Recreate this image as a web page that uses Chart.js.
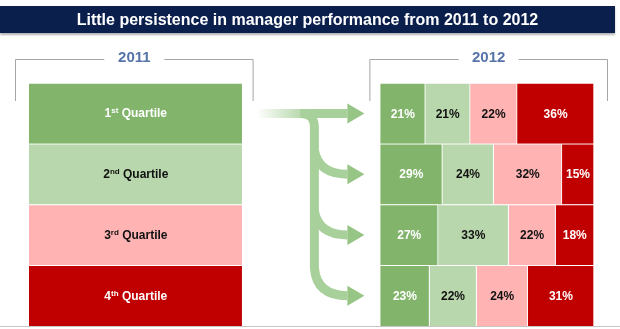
<!DOCTYPE html>
<html>
<head>
<meta charset="utf-8">
<script src="https://cdn.jsdelivr.net/npm/chart.js@4"></script>
<style>
  html, body { margin: 0; padding: 0; background: #fff; }
  body { width: 620px; height: 329px; position: relative; overflow: hidden; font-family: "Liberation Sans", Arial, sans-serif; }
  #title {
    position: absolute; left: 0; top: 6px; width: 615px; height: 27px;
    background: #0b1f4d; color: #fff; font-weight: bold; font-size: 16px;
    line-height: 27px; text-align: center; box-shadow: 0 2px 2px rgba(0, 0, 0, 0.3);
  }
  #chart-wrap { position: absolute; left: 0; top: 0; width: 620px; height: 329px; }
  #baseline { position: absolute; left: 0; top: 326px; width: 620px; height: 1px; background: #c6c6c6; }
</style>
</head>
<body>
<div id="chart-wrap"><canvas id="chart"></canvas></div>
<div id="title">Little persistence in manager performance from 2011 to 2012</div>
<div id="baseline"></div>
<script>
'use strict';

// rows: 2011 quartile, segments: share landing in each 2012 quartile
const ROW_LABELS = ['1st Quartile', '2nd Quartile', '3rd Quartile', '4th Quartile'];
const YEAR_LABELS = ['2011', '2012'];
const Q1_2012 = [21, 29, 27, 23];
const Q2_2012 = [21, 24, 33, 22];
const Q3_2012 = [22, 32, 22, 24];
const Q4_2012 = [36, 15, 18, 31];

const QUARTILE_COLORS = ['#82b56b', '#b9d7ad', '#ffb3b3', '#c00000'];
const QUARTILE_TEXT = ['#ffffff', '#111111', '#111111', '#ffffff'];
const GAP = 64.5;
const FONT = '"Liberation Sans", Arial, sans-serif';

const barStyle = {
  borderColor: '#ffffff',
  borderWidth: { top: 1, right: 1, bottom: 0, left: 0 },
  borderSkipped: false,
  categoryPercentage: 1,
  barPercentage: 1,
};

const datasets = [
  { label: YEAR_LABELS[0], data: ROW_LABELS.map(() => 100), backgroundColor: QUARTILE_COLORS, kind: 'left', ...barStyle },
  { label: 'gap', data: ROW_LABELS.map(() => GAP), backgroundColor: 'rgba(0,0,0,0)', borderWidth: 0, kind: 'gap', categoryPercentage: 1, barPercentage: 1 },
  ...[Q1_2012, Q2_2012, Q3_2012, Q4_2012].map((values, i) => ({
    label: `Q${i + 1} 2012`, data: values, backgroundColor: QUARTILE_COLORS[i], kind: 'right', quartile: i, ...barStyle,
  })),
];

function drawBracket(ctx, x0, x1, yLine, yEnd, text) {
  const mid = (x0 + x1) / 2;
  ctx.strokeStyle = '#a6a6a6';
  ctx.lineWidth = 1;
  ctx.beginPath();
  ctx.moveTo(x0 + 0.5, yEnd);
  ctx.lineTo(x0 + 0.5, yLine + 0.5);
  ctx.lineTo(mid - 30, yLine + 0.5);
  ctx.moveTo(mid + 30, yLine + 0.5);
  ctx.lineTo(x1 - 0.5, yLine + 0.5);
  ctx.lineTo(x1 - 0.5, yEnd);
  ctx.stroke();
  ctx.fillStyle = '#5774a9';
  ctx.font = `bold 15px ${FONT}`;
  ctx.textAlign = 'center';
  ctx.textBaseline = 'middle';
  ctx.fillText(text, mid, yLine - 1);
}

function drawQuartileLabel(ctx, label, cx, cy, color) {
  const m = label.match(/^(\d)(\D+?) (.*)$/);
  const main = `bold 12px ${FONT}`;
  const sup = `bold 8px ${FONT}`;
  ctx.font = main;
  const wNum = ctx.measureText(m[1]).width;
  const wRest = ctx.measureText(' ' + m[3]).width;
  ctx.font = sup;
  const wSup = ctx.measureText(m[2]).width;
  let x = cx - (wNum + wSup + wRest) / 2;
  ctx.fillStyle = color;
  ctx.textAlign = 'left';
  ctx.textBaseline = 'alphabetic';
  const base = cy + 4;
  ctx.font = main;
  ctx.fillText(m[1], x, base);
  x += wNum;
  ctx.font = sup;
  ctx.fillText(m[2], x, base - 4);
  x += wSup;
  ctx.font = main;
  ctx.fillText(' ' + m[3], x, base);
}

const decorPlugin = {
  id: 'decor',
  beforeDatasetsDraw(chart) {
    const { ctx, chartArea } = chart;
    const xs = chart.scales.x;
    const ys = chart.scales.y;
    const leftEnd = xs.getPixelForValue(100);
    const rightStart = xs.getPixelForValue(100 + GAP);
    const rightEnd = xs.getPixelForValue(200 + GAP);

    ctx.save();
    drawBracket(ctx, chartArea.left - 14, leftEnd + 11, 59, 101, YEAR_LABELS[0]);
    drawBracket(ctx, rightStart - 11, rightEnd + 14, 59, 101, YEAR_LABELS[1]);

    // flow arrows from the 1st quartile to every 2012 row
    const rowsY = ROW_LABELS.map((_, i) => ys.getPixelForValue(i));
    const startX = leftEnd + 14;
    const tipX = rightStart - 16;
    const headBase = tipX - 17;
    const trunkX = tipX - 50;
    const shaft = '#a8d09a';
    const head = '#97c585';

    const grad = ctx.createLinearGradient(startX, 0, startX + 55, 0);
    grad.addColorStop(0, 'rgba(168,208,154,0)');
    grad.addColorStop(1, shaft);
    ctx.lineWidth = 9;
    ctx.lineCap = 'butt';
    ctx.strokeStyle = grad;
    ctx.beginPath();
    ctx.moveTo(startX, rowsY[0]);
    ctx.lineTo(headBase, rowsY[0]);
    ctx.stroke();

    ctx.strokeStyle = shaft;
    const y0 = rowsY[0];
    const yLast = rowsY[rowsY.length - 1];
    ctx.beginPath();
    ctx.moveTo(trunkX - 14, y0);
    ctx.quadraticCurveTo(trunkX, y0, trunkX, y0 + 14);
    ctx.lineTo(trunkX, yLast - 28);
    ctx.quadraticCurveTo(trunkX + 2, yLast, headBase, yLast);
    ctx.stroke();

    rowsY.slice(1, -1).forEach(y => {
      ctx.beginPath();
      ctx.moveTo(trunkX, y - 24);
      ctx.quadraticCurveTo(trunkX + 4, y, headBase, y);
      ctx.stroke();
    });

    ctx.fillStyle = head;
    rowsY.forEach(y => {
      ctx.beginPath();
      ctx.moveTo(headBase, y - 10);
      ctx.lineTo(tipX, y);
      ctx.lineTo(headBase, y + 10);
      ctx.closePath();
      ctx.fill();
    });
    ctx.restore();
  },
  afterDatasetsDraw(chart) {
    const { ctx } = chart;
    ctx.save();
    chart.data.datasets.forEach((ds, di) => {
      if (ds.kind === 'gap') return;
      chart.getDatasetMeta(di).data.forEach((bar, i) => {
        const cx = (bar.x + bar.base) / 2;
        if (ds.kind === 'left') {
          drawQuartileLabel(ctx, ROW_LABELS[i], cx, bar.y, QUARTILE_TEXT[i]);
        } else {
          ctx.font = `bold 12px ${FONT}`;
          ctx.fillStyle = QUARTILE_TEXT[ds.quartile];
          ctx.textAlign = 'center';
          ctx.textBaseline = 'middle';
          ctx.fillText(`${ds.data[i]}%`, cx, bar.y + 1);
        }
      });
    });
    ctx.restore();
  },
};

new Chart(document.getElementById('chart').getContext('2d'), {
  type: 'bar',
  data: { labels: ROW_LABELS, datasets },
  plugins: [decorPlugin],
  options: {
    indexAxis: 'y',
    responsive: true,
    maintainAspectRatio: false,
    animation: false,
    layout: { padding: { left: 29, right: 26, top: 83, bottom: 3 } },
    plugins: { legend: { display: false }, tooltip: { enabled: false } },
    scales: {
      x: { stacked: true, min: 0, max: 200 + GAP, display: false },
      y: { stacked: true, display: false },
    },
  },
});
</script>
</body>
</html>
